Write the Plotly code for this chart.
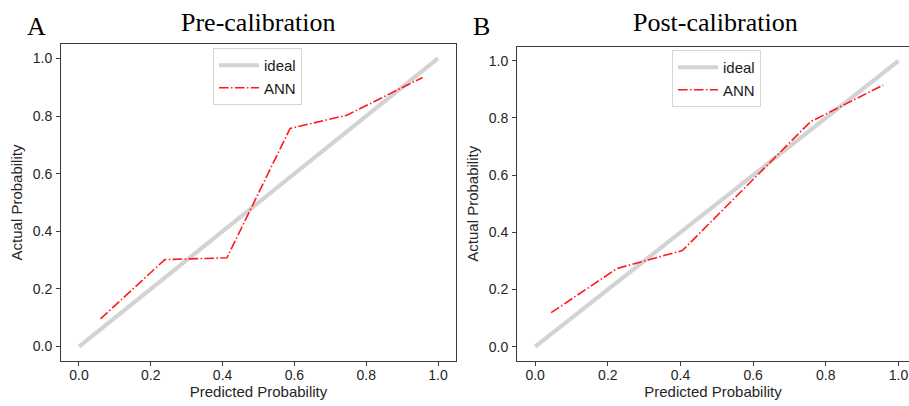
import plotly.graph_objects as go

# ---- data ----
ideal_x = [0.0, 1.0]
ideal_y = [0.0, 1.0]

pre_pred = [0.060, 0.239, 0.412, 0.588, 0.746, 0.957]
pre_actual = [0.096, 0.302, 0.308, 0.757, 0.803, 0.934]

post_pred = [0.044, 0.226, 0.405, 0.758, 0.958]
post_actual = [0.119, 0.274, 0.336, 0.787, 0.915]

panel_titles = ["Pre-calibration", "Post-calibration"]
panel_letters = ["A", "B"]
tick_vals = [0.0, 0.2, 0.4, 0.6, 0.8, 1.0]
tick_text = ["0.0", "0.2", "0.4", "0.6", "0.8", "1.0"]

W, H = 909, 406
GRAY = "#d3d3d3"
RED = "#ff1a1a"
FRAME = "#3a3a3a"
ANN_DASH = "9.6px,2.4px,1.5px,2.4px"

fig = go.Figure()

# left panel
fig.add_trace(go.Scatter(x=ideal_x, y=ideal_y, mode="lines", name="ideal",
                         line=dict(color=GRAY, width=4.2), xaxis="x", yaxis="y",
                         legend="legend"))
fig.add_trace(go.Scatter(x=pre_pred, y=pre_actual, mode="lines", name="ANN",
                         line=dict(color=RED, width=1.6, dash=ANN_DASH),
                         xaxis="x", yaxis="y", legend="legend"))
# right panel
fig.add_trace(go.Scatter(x=ideal_x, y=ideal_y, mode="lines", name="ideal",
                         line=dict(color=GRAY, width=4.2), xaxis="x2", yaxis="y2",
                         legend="legend2"))
fig.add_trace(go.Scatter(x=post_pred, y=post_actual, mode="lines", name="ANN",
                         line=dict(color=RED, width=1.6, dash=ANN_DASH),
                         xaxis="x2", yaxis="y2", legend="legend2"))

tickfont = dict(family="Liberation Sans, Arial, sans-serif", size=14, color="#262626")
titlefont = dict(family="Liberation Sans, Arial, sans-serif", size=15, color="#262626")

def xax(domain, rng, anchor, mirror=True):
    return dict(domain=domain, range=rng, anchor=anchor, showgrid=False, zeroline=False,
                showline=True, linecolor=FRAME, linewidth=1, mirror=mirror,
                ticks="outside", ticklen=4, tickcolor=FRAME, tickwidth=1,
                ticklabelstandoff=-3,
                tickvals=tick_vals, ticktext=tick_text, tickfont=tickfont,
                title=dict(text="Predicted Probability", font=titlefont, standoff=2))

def yax(domain, rng, anchor, mirror=True):
    return dict(domain=domain, range=rng, anchor=anchor, showgrid=False, zeroline=False,
                showline=True, linecolor=FRAME, linewidth=1, mirror=mirror,
                ticks="outside", ticklen=4, tickcolor=FRAME, tickwidth=1,
                ticklabelstandoff=1,
                tickvals=tick_vals, ticktext=tick_text, tickfont=tickfont,
                title=dict(text="Actual Probability", font=titlefont, standoff=6))

# pixel geometry
L1, R1, T1, B1 = 61, 456, 44, 361
L2, T2, B2 = 517, 46.5, 361
x2_right = -0.05 + (W - L2) / 363.3

legend_common = dict(bgcolor="white", bordercolor="#d6d6d6", borderwidth=1,
                     font=dict(family="Liberation Sans, Arial, sans-serif", size=15,
                               color="#1a1a1a"),
                     xanchor="left", yanchor="top", itemwidth=40,
                     tracegroupgap=0)

fig.update_layout(
    width=W, height=H,
    margin=dict(l=0, r=0, t=0, b=0),
    paper_bgcolor="white", plot_bgcolor="white",
    xaxis=xax([L1 / W, R1 / W], [-0.05, 1.05], "y"),
    yaxis=yax([(H - B1) / H, (H - T1) / H], [-0.05, 1.05], "x"),
    xaxis2=xax([L2 / W, 1.0], [-0.05, x2_right], "y2"),
    yaxis2=yax([(H - B2) / H, (H - T2) / H], [-0.05, 1.05], "x2", mirror=False),
    legend=dict(x=213 / W, y=(H - 48) / H, **legend_common),
    legend2=dict(x=672 / W, y=(H - 50) / H, **legend_common),
    showlegend=True,
)

serif = "Liberation Serif, Times New Roman, serif"
annots = [
    dict(text=panel_titles[0], x=(L1 + R1) / 2 / W, y=(H - 22) / H),
    dict(text=panel_titles[1], x=(L2 + 913) / 2 / W, y=(H - 22) / H),
    dict(text=panel_letters[0], x=36 / W, y=(H - 26) / H),
    dict(text=panel_letters[1], x=481 / W, y=(H - 26) / H),
]
for a in annots:
    fig.add_annotation(text=a["text"], x=a["x"], y=a["y"], xref="paper", yref="paper",
                       xanchor="center", yanchor="middle", showarrow=False,
                       font=dict(family=serif, size=26, color="black"))

fig.write_html("out.html")
